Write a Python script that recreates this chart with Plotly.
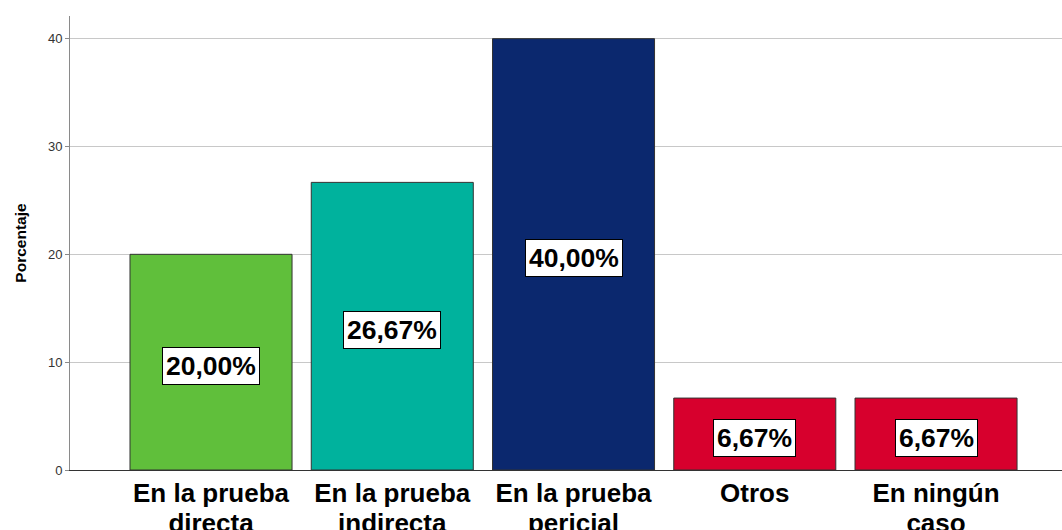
import plotly.graph_objects as go

categories = ["En la prueba directa", "En la prueba indirecta", "En la prueba pericial", "Otros", "En ningún caso"]
line1 = ["En la prueba", "En la prueba", "En la prueba", "Otros", "En ningún"]
line2 = ["directa", "indirecta", "pericial", "", "caso"]
values = [20.00, 26.67, 40.00, 6.67, 6.67]
colors = ["#60bf3b", "#00b29d", "#0b286e", "#d7002d", "#d7002d"]
yticks = [0, 10, 20, 30, 40]

idx = list(range(len(categories)))

fig = go.Figure()
fig.add_trace(go.Bar(
    x=idx, y=values, width=0.894,
    marker=dict(color=colors, line=dict(color="#333333", width=1)),
    hoverinfo="skip", showlegend=False,
))

for i, v in zip(idx, values):
    fig.add_annotation(
        x=i, y=v / 2, xref="x", yref="y",
        text=f"{v:.2f}".replace(".", ",") + "%",
        showarrow=False, yshift=-4,
        font=dict(family="Liberation Sans, Arial", size=26.5, color="black", weight="bold"),
        bgcolor="white", bordercolor="black", borderwidth=1, borderpad=3,
    )

xr = [-0.778, 4.695]
fig.update_layout(
    width=1062, height=530,
    margin=dict(l=70, r=0, t=16, b=60),
    paper_bgcolor="white", plot_bgcolor="white",
    font=dict(family="Liberation Sans, Arial", color="black"),
    xaxis=dict(
        range=xr, tickvals=idx, ticktext=line1, showgrid=False, zeroline=False,
        showline=True, linecolor="#333333", linewidth=1, ticks="", automargin=False,
        tickfont=dict(size=26, weight="bold", color="black"), ticklabelstandoff=0,
    ),
    xaxis2=dict(
        range=xr, tickvals=idx, ticktext=line2, overlaying="x", side="bottom",
        showgrid=False, zeroline=False, showline=False, ticks="", anchor="y",
        automargin=False,
        tickfont=dict(size=26, weight="bold", color="black"), ticklabelstandoff=35,
    ),
    yaxis=dict(
        range=[0, 42.1], tickvals=yticks, showgrid=True, gridcolor="#c8c8c8", gridwidth=1,
        zeroline=False, showline=True, linecolor="#8a8a8a", linewidth=1, automargin=False,
        ticks="outside", ticklen=4, tickcolor="#8a8a8a",
        tickfont=dict(size=13, color="#333333"),
        title=dict(text="Porcentaje", font=dict(size=15.5, weight="bold", color="black"), standoff=17),
    ),
)
# invisible trace to activate the second-line label axis
fig.add_trace(go.Scatter(x=idx, y=[None] * len(idx), xaxis="x2", mode="markers",
                         showlegend=False, hoverinfo="skip"))

fig.write_html("out.html", config={"displayModeBar": False},
               post_script="document.body.style.margin='0';document.body.style.padding='0';")
